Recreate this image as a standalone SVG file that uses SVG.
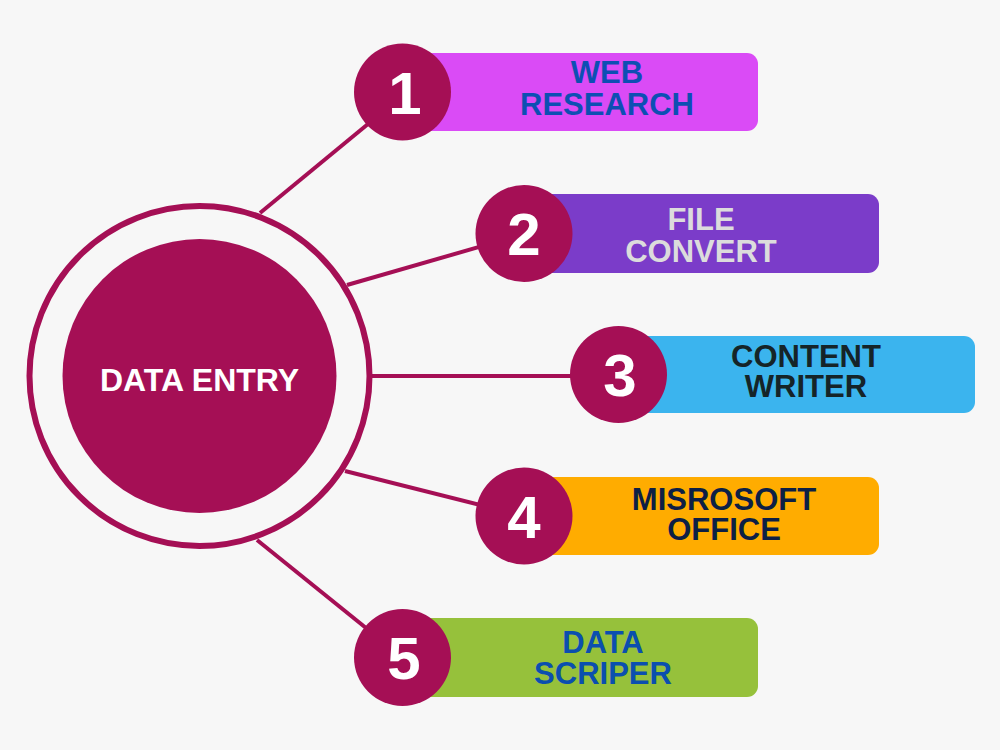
<svg xmlns="http://www.w3.org/2000/svg" width="1000" height="750" viewBox="0 0 1000 750">
<style>
.bg{fill:#f7f7f7}
.c{fill:#a50f55}
.ring{fill:none;stroke:#a50f55;stroke-width:6}
.ln{stroke:#a50f55;stroke-width:4;stroke-linecap:butt}
.num{font-family:"Liberation Sans",Arial,sans-serif;font-weight:bold;font-size:60px;fill:#ffffff;text-anchor:middle}
.lbl{font-family:"Liberation Sans",Arial,sans-serif;font-weight:bold;font-size:31px;text-anchor:middle}
.main{font-family:"Liberation Sans",Arial,sans-serif;font-weight:bold;font-size:32px;fill:#ffffff;text-anchor:middle}
</style>
<rect class="bg" x="0" y="0" width="1000" height="750"/>
<g id="connectors">
<line class="ln" x1="260" y1="213" x2="402" y2="96"/>
<line class="ln" x1="347" y1="285" x2="524" y2="234"/>
<line class="ln" x1="372" y1="376" x2="618" y2="376"/>
<line class="ln" x1="345" y1="471" x2="524" y2="516"/>
<line class="ln" x1="257" y1="540" x2="402" y2="657"/>
</g>
<g id="center">
<circle class="ring" cx="199.5" cy="376" r="170"/>
<circle class="c" cx="199.5" cy="376" r="137"/>
<text class="main" x="199.5" y="391">DATA ENTRY</text>
</g>
<g id="node1">
<rect x="400" y="53" width="358" height="78" rx="11" fill="#da4bf6"/>
<circle class="c" cx="402.5" cy="92" r="48.5"/>
<text class="num" x="405" y="114">1</text>
<text class="lbl" x="607" y="83" fill="#0d4fb3">WEB</text>
<text class="lbl" x="607" y="115" fill="#0d4fb3">RESEARCH</text>
</g>
<g id="node2">
<rect x="520" y="194" width="359" height="79" rx="11" fill="#7b3cc9"/>
<circle class="c" cx="524" cy="233.5" r="48.5"/>
<text class="num" x="524" y="255">2</text>
<text class="lbl" x="701" y="230" fill="#dcdcdc">FILE</text>
<text class="lbl" x="701" y="262" fill="#dcdcdc">CONVERT</text>
</g>
<g id="node3">
<rect x="615" y="336" width="360" height="77" rx="11" fill="#3bb4ee"/>
<circle class="c" cx="618.5" cy="374.5" r="48.5"/>
<text class="num" x="620" y="396">3</text>
<text class="lbl" x="806" y="367" fill="#152428">CONTENT</text>
<text class="lbl" x="806" y="397" fill="#152428">WRITER</text>
</g>
<g id="node4">
<rect x="520" y="477" width="359" height="78" rx="11" fill="#ffac00"/>
<circle class="c" cx="524" cy="516" r="48.5"/>
<text class="num" x="524" y="538">4</text>
<text class="lbl" x="724" y="510" fill="#0d1f45">MISROSOFT</text>
<text class="lbl" x="724" y="540" fill="#0d1f45">OFFICE</text>
</g>
<g id="node5">
<rect x="400" y="618" width="358" height="79" rx="11" fill="#96c13b"/>
<circle class="c" cx="402.5" cy="657.5" r="48.5"/>
<text class="num" x="404" y="679">5</text>
<text class="lbl" x="603" y="653" fill="#0b4faf">DATA</text>
<text class="lbl" x="603" y="684" fill="#0b4faf">SCRIPER</text>
</g>
</svg>
